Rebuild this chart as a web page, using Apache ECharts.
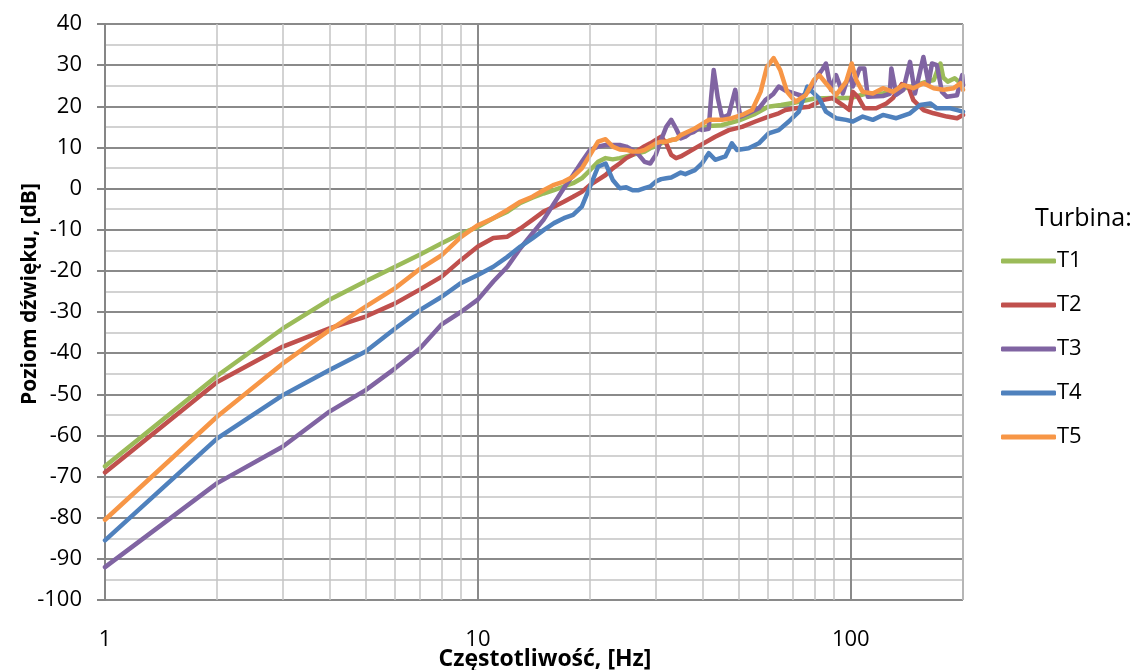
<!DOCTYPE html>
<html>
<head>
<meta charset="utf-8">
<script src="https://cdn.jsdelivr.net/npm/echarts@6/dist/echarts.min.js"></script>
<style>
html,body{margin:0;padding:0;background:#fff;}
#chart{width:1139px;height:670px;}
</style>
</head>
<body>
<div id="chart"></div>
<script>
// ---- Data (frequency in Hz, level in dB) ----
const seriesNames = ['T1', 'T2', 'T3', 'T4', 'T5'];
const seriesColors = ['#9BBB59', '#C0504D', '#8064A2', '#4F81BD', '#F79646'];

const freqT1 = [1,2,3,4,5,6,7,8,9,10,11,12,13,14,15,16,17,18,19,20,21,22,23,24,25,26,27,28,29,30,31,32,33,34,35,38,41.6,45,50,55,60,65,70,80,90,100,110,122,135,150,160,167,172,174,177,182,190,200];
const valT1 = [-67.5,-45.5,-34,-27,-22.5,-19,-16,-13.3,-11,-9.3,-7.2,-5.6,-3.5,-2.2,-1.2,-0.4,0.5,1.3,2.5,4.5,6.5,7.4,7.1,7.4,7.8,8.2,8.6,9,9.8,10.3,11,11.4,11.8,12,12.6,14,15.2,15.4,16.5,18,19.9,20.3,20.8,21.9,22,22,23.1,23.1,24,25.2,26,26.4,29.5,30.4,27,26,26.8,25.2];

const freqT2 = [1,2,3,4,5,6,7,8,9,10,11,12,13,14,15,16,17,18,19,20,21,22,23,24,25,26,27,28,29,30,31,32,33,34,35,38.9,43.3,47.1,51.1,55.5,60.2,64.1,66.8,71.1,77.3,84,89.4,95.2,99.2,101.3,104.5,108.8,117,124.6,129.8,137,142.7,147.2,156.6,166.8,181.1,192.8,200];
const valT2 = [-69,-47,-38.4,-34,-31.1,-27.9,-24.5,-21.4,-17.4,-14.1,-12,-11.7,-9.7,-7.6,-5.6,-4.4,-3.2,-2,-0.8,0.9,2.1,3.3,4.9,6.1,7.4,8.2,9.4,10.3,11,11.8,12.6,11,8.2,7.4,7.8,10.2,12.6,14.2,15,16.3,17.5,18.3,19.1,19.5,19.9,21.5,22,20.3,19.1,23.5,22.3,19.5,19.5,20.7,22,25.4,24.8,21.5,19.1,18.3,17.5,17.1,17.9];

const freqT3 = [1,2,3,4,5,6,7,8,9,10,11,12,13,14,15,16,17,18,19,20,21,22,23,24,25,26,27,28,29,30,31,32,33,34,35,36,37,38,39,40,41.6,42.2,42.9,44,45.1,46.1,47.1,49,50.6,53.2,56.7,59,62,64.1,66.8,69.6,74.1,78,80.6,84,85.8,88.5,91.3,95.2,99.2,101.3,105.6,108.8,111.1,122,127.2,128.5,132.5,138.3,144.2,148.7,156.6,161.7,165.1,170.2,175.6,181.1,192.8,199,200];
const valT3 = [-92,-71.6,-62.7,-54.2,-49,-43.7,-38.8,-33,-30,-27,-22.6,-19,-14.5,-10.9,-7.6,-3.6,0.1,3.3,6.5,9.4,10.2,10.6,10.6,10.6,10.2,9.4,8.2,6.5,6.1,8.2,11.8,15,16.7,14.6,12.2,12.6,13.4,13.8,14.6,14.2,14.5,22,28.8,22,17.5,17.5,18,24,17.5,18.3,19.5,21.5,23,24.8,23.8,23.3,22.5,24,26.8,29,30.4,24,27.6,23.1,28,24.8,29.2,29.2,22.3,22.5,23,29.2,22.8,24,30.8,23.1,32,25.6,30.4,30,23.5,22.3,22.7,27.6,25];

const freqT4 = [1,2,3,4,5,6,7,8,9,10,11,12,13,14,15,16,17,18,19,20,21,22,23,24,25,26,27,28,29,30,31,32,33,34,35,36,38.2,39.9,41.6,43.3,46.1,48,49.5,53.2,56.7,60.2,64.1,68.2,72.6,76.5,78.9,82.3,85.8,91.3,97.2,101.3,107.7,114.6,122,132.5,144.2,153.4,163.4,170.2,185,200];
const valT4 = [-85.5,-60.7,-50.2,-44.1,-39.6,-34,-29.5,-26.3,-23,-21,-19,-16.6,-14.1,-12.1,-10.1,-8.4,-7.2,-6.4,-4.4,0.5,5.3,6.1,2.1,0.1,0.3,-0.4,-0.4,0.1,0.5,1.7,2.3,2.5,2.7,3.3,3.9,3.5,4.5,6.1,8.6,7,7.8,11,9.4,9.8,11,13.4,14.2,16.3,18.7,24.8,23.5,21.9,18.7,17.1,16.7,16.3,17.5,16.7,17.9,17.1,18.3,20.3,20.7,19.5,19.5,18.7];

const freqT5 = [1,2,3,4,5,6,7,8,9,10,11,12,13,14,15,16,17,18,19,20,21,22,23,24,25,26,27,28,29,30,31,32,33,34,35,38.2,41.6,45.1,48,51.1,54.4,57.3,59.6,62.1,64.7,67.5,71.1,75.7,79.7,82.3,85.8,91.3,97.2,100.6,103.4,107.7,114.6,122,129.8,138.3,147.2,156.6,166.8,177.4,188.8,196.9,200];
const valT5 = [-80.5,-55.4,-42.5,-34.4,-28.7,-24.2,-19.5,-16.2,-11.8,-8.9,-7.2,-5.2,-3.2,-2,-0.4,0.9,1.7,2.9,4.9,8.2,11.4,12,10.2,9.5,9.4,9,9,9.4,10.2,11,11.4,11.4,11.8,12,13,14.6,16.7,16.7,17.1,17.9,19.1,23.5,29.6,31.7,28.8,23.5,21.1,22.7,26.4,27.6,25.6,22.7,26,30.4,26.4,23.5,23.1,24.4,23.5,25.2,24.4,25.6,24.4,24,24.4,25.6,24];

// minor (non-decade) frequency grid lines
const minorFreqs = [2,3,4,5,6,7,8,9,20,30,40,50,60,70,80,90,200];

const xAxisTitle = 'Częstotliwość, [Hz]';
const yAxisTitle = 'Poziom dźwięku, [dB]';
const legendTitle = 'Turbina:';

// ---- Build chart ----
const freqs = [freqT1, freqT2, freqT3, freqT4, freqT5];
const vals = [valT1, valT2, valT3, valT4, valT5];
const FONT = 'Open Sans';

const lineSeries = seriesNames.map((name, i) => ({
  name: name,
  type: 'line',
  data: freqs[i].map((f, j) => [f, vals[i][j]]),
  symbol: 'none',
  showSymbol: false,
  smooth: false,
  z: 3,
  lineStyle: { width: 4.5, color: seriesColors[i], cap: 'round', join: 'round' },
  itemStyle: { color: seriesColors[i] },
  emphasis: { disabled: true }
}));

const gridSeries = {
  name: 'minorGrid',
  type: 'line',
  data: [],
  z: 1,
  silent: true,
  markLine: {
    silent: true,
    symbol: ['none', 'none'],
    label: { show: false },
    lineStyle: { color: '#c4c4c4', width: 1.5, type: 'solid' },
    emphasis: { disabled: true },
    animation: false,
    data: minorFreqs.map(f => ({ xAxis: f }))
  }
};

const chart = echarts.init(document.getElementById('chart'), null, { renderer: 'canvas' });
chart.setOption({
  animation: false,
  backgroundColor: '#ffffff',
  grid: { left: 105, right: 176, top: 24, bottom: 70, containLabel: false, outerBoundsMode: 'none' },
  xAxis: {
    type: 'log',
    logBase: 10,
    min: 1,
    max: 200,
    name: xAxisTitle,
    nameLocation: 'middle',
    nameGap: 48,
    nameMoveOverlap: false,
    nameTextStyle: { fontFamily: FONT, fontSize: 23, fontWeight: 'bold', color: '#000', padding: [0, 0, 0, 22] },
    axisLine: { show: true, lineStyle: { color: '#868686', width: 2 } },
    axisTick: { show: true, length: 8, lineStyle: { color: '#868686', width: 2 } },
    axisLabel: { fontFamily: FONT, fontSize: 22, color: '#000', margin: 29, showMaxLabel: false },
    splitLine: { show: true, lineStyle: { color: '#8a8a8a', width: 2 } }
  },
  yAxis: {
    type: 'value',
    min: -100,
    max: 40,
    interval: 10,
    name: yAxisTitle,
    nameLocation: 'middle',
    nameGap: 64,
    nameMoveOverlap: false,
    nameTextStyle: { fontFamily: FONT, fontSize: 21, fontWeight: 'bold', color: '#000', padding: [0, 0, 0, 36] },
    axisLine: { show: true, lineStyle: { color: '#868686', width: 2 } },
    axisTick: { show: true, length: 8, lineStyle: { color: '#868686', width: 2 } },
    axisLabel: { fontFamily: FONT, fontSize: 22, color: '#000', margin: 23 },
    splitLine: { show: true, lineStyle: { color: '#8a8a8a', width: 2 } },
    minorTick: { show: false, splitNumber: 2 },
    minorSplitLine: { show: true, lineStyle: { color: '#c4c4c4', width: 1.5 } }
  },
  legend: {
    data: seriesNames.map(n => ({ name: n, icon: 'roundRect' })),
    orient: 'vertical',
    left: 996,
    top: 245,
    itemWidth: 55,
    itemHeight: 5,
    itemGap: 22,
    textStyle: { fontFamily: FONT, fontSize: 22, color: '#000', lineHeight: 20, padding: [0, 0, 0, -4] },
    selectedMode: false
  },
  graphic: [{
    type: 'text',
    left: 1035,
    top: 206,
    style: { text: legendTitle, font: '25px "Open Sans"', fill: '#000' }
  }],
  series: [gridSeries].concat(lineSeries)
});
</script>
</body>
</html>
